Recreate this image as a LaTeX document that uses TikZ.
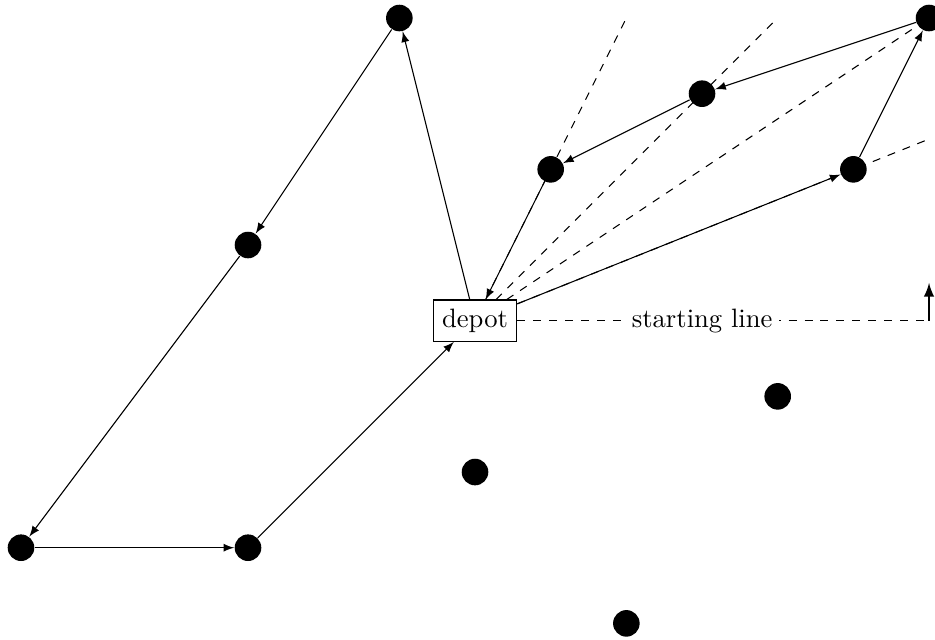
\documentclass[tikz,border=0pt]{standalone}
\usetikzlibrary{arrows}
\begin{document}
\begin{tikzpicture}[
  customer/.style={circle,fill=black,inner sep=0pt,minimum size=10pt},
  depotbox/.style={draw,rectangle},
  route/.style={-latex},
  ray/.style={dashed}
]
\useasboundingbox (-0.2775,-1.207) rectangle (12.079,7.238);

% depot and customers
\node[depotbox] (depot) at (6,3) {depot};
\node[customer] (a) at (5,7) {};
\node[customer] (b) at (3,4) {};
\node[customer] (c) at (0,0) {};
\node[customer] (d) at (3,0) {};
\node[customer] (e) at (7,5) {};
\node[customer] (f) at (9,6) {};
\node[customer] (g) at (12,7) {};
\node[customer] (h) at (11,5) {};
\node[customer] (i) at (10,2) {};
\node[customer] (j) at (6,1) {};
\node[customer] (k) at (8,-1) {};

% sweep rays from the depot
\coordinate (r1) at (8,7);
\coordinate (r2) at (10,7);
\coordinate (r4) at (12,5.4);
\coordinate (s) at (12,3);
\coordinate (sup) at (12,3.5);
\draw[ray] (depot) -- (r1);
\draw[ray] (depot) -- (r2);
\draw[ray] (depot) -- (g);
\draw[ray] (depot) -- (r4);

% starting line with sweep direction
\draw[ray] (depot) -- node[pos=0.449,fill=white,inner sep=2.6pt] {starting line} (s);
\draw[thick,-latex] (s) -- (sup);

% first route
\draw[route] (depot) -- (a);
\draw[route] (a) -- (b);
\draw[route] (b) -- (c);
\draw[route] (c) -- (d);
\draw[route] (d) -- (depot);

% second route
\draw[route] (depot) -- (h);
\draw[route] (h) -- (g);
\draw[route] (g) -- (f);
\draw[route] (f) -- (e);
\draw[route] (e) -- (depot);
\end{tikzpicture}
\end{document}
